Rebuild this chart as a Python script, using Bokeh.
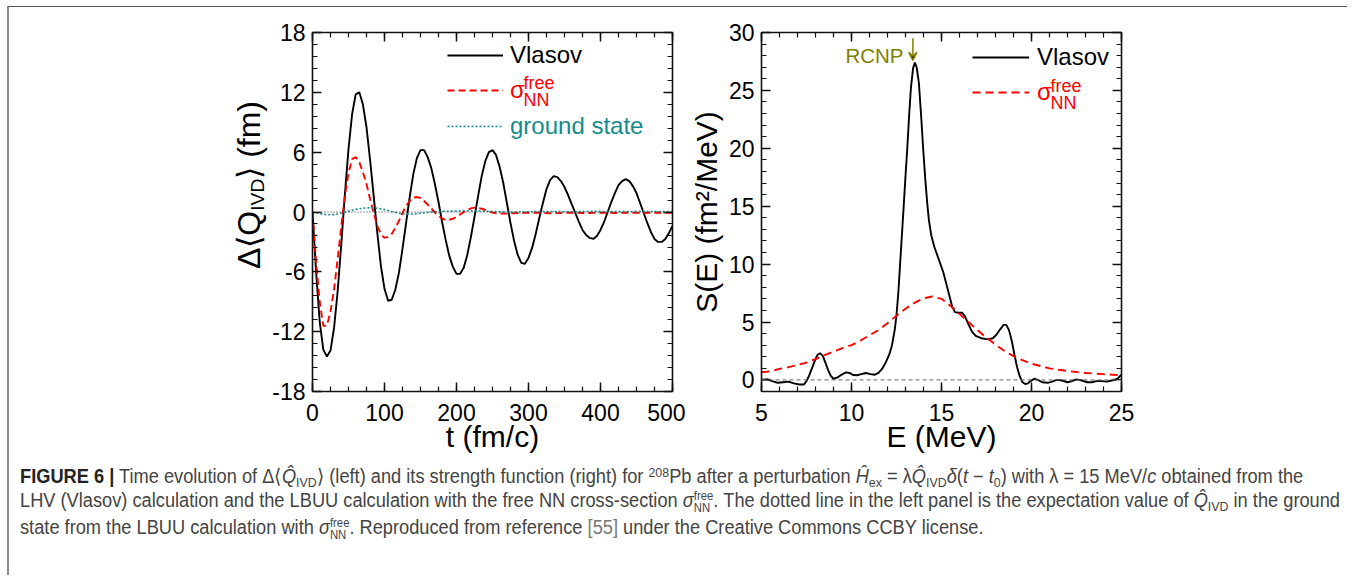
from bokeh.plotting import figure
from bokeh.models import (LinearAxis, FixedTicker, Range1d, Label, Arrow, VeeHead,
                          Div, Span, Legend, LegendItem, CustomLabelingPolicy)
from bokeh.layouts import row, column
from bokeh.embed import file_html
from bokeh.resources import INLINE

# ---------------- data: left panel (time evolution) ----------------
t_step5 = list(range(0, 505, 5))
q_vlasov = [0, -6.0, -11.0, -13.8, -14.5, -13.9, -11.6, -7.9, -3.2, 1.8,
            6.3, 9.8, 11.8, 12.0, 10.8, 8.5, 5.2, 1.6, -2.1, -5.4,
            -7.7, -8.9, -8.8, -7.8, -6.1, -3.7, -1.1, 1.5, 3.8, 5.4,
            6.2, 6.2, 5.5, 4.4, 2.8, 1.0, -1.0, -2.8, -4.4, -5.5,
            -6.2, -6.2, -5.6, -4.3, -2.5, -0.5, 1.6, 3.6, 5.1, 6.0,
            6.2, 5.7, 4.5, 2.9, 0.9, -1.1, -2.9, -4.3, -5.1, -5.2,
            -4.6, -3.6, -2.2, -0.6, 0.9, 2.3, 3.2, 3.6, 3.5, 3.1,
            2.5, 1.7, 0.8, -0.1, -1.0, -1.8, -2.3, -2.6, -2.7, -2.4,
            -1.8, -1.0, 0.0, 1.0, 1.9, 2.7, 3.1, 3.3, 3.1, 2.6,
            1.9, 0.9, -0.1, -1.1, -2.0, -2.7, -3.0, -3.0, -2.7, -2.1,
            -1.4]
q_free = [0, -5.0, -9.0, -11.4, -11.4, -10.0, -7.7, -4.7, -1.4, 1.6,
          3.9, 5.3, 5.5, 5.0, 4.0, 2.8, 1.3, -0.1, -1.4, -2.2,
          -2.6, -2.5, -2.2, -1.6, -0.9, -0.1, 0.6, 1.1, 1.45, 1.5,
          1.4, 1.1, 0.75, 0.35, -0.05, -0.4, -0.65, -0.8, -0.78, -0.68,
          -0.49, -0.25, -0.01, 0.21, 0.37, 0.44, 0.42, 0.33, 0.2, 0.05,
          -0.05, -0.12, -0.15, -0.16, -0.15, -0.13, -0.12, -0.1, -0.1, -0.09,
          -0.08, -0.07, -0.07, -0.08, -0.1, -0.11, -0.12, -0.12, -0.11, -0.1,
          -0.08, -0.07, -0.07, -0.08, -0.09, -0.1, -0.1, -0.1, -0.09, -0.08,
          -0.07, -0.07, -0.08, -0.09, -0.1, -0.1, -0.09, -0.08, -0.08, -0.08,
          -0.09, -0.1, -0.1, -0.09, -0.08, -0.08, -0.08, -0.09, -0.09, -0.08,
          -0.08]
t_step10 = list(range(0, 510, 10))
q_ground = [0, -0.15, -0.28, -0.26, -0.12, 0.08, 0.26, 0.38, 0.43, 0.38,
            0.24, 0.05, -0.13, -0.22, -0.2, -0.12, -0.04, 0.03, 0.07, 0.08,
            0.1, 0.12, 0.12, 0.1, 0.08, 0.05, 0.02, 0.0, -0.01, 0.0,
            0.02, 0.04, 0.05, 0.05, 0.04, 0.03, 0.03, 0.04, 0.05, 0.06,
            0.06, 0.05, 0.04, 0.04, 0.05, 0.06, 0.06, 0.05, 0.05, 0.05,
            0.05]

# ---------------- data: right panel (strength function) ----------------
e_vlasov = [5.0, 5.3, 5.6, 5.9, 6.2, 6.5, 6.8, 7.1, 7.35, 7.5,
            7.65, 7.8, 7.95, 8.1, 8.25, 8.4, 8.55, 8.7, 8.85, 9.0,
            9.2, 9.45, 9.7, 9.9, 10.1, 10.3, 10.55, 10.8, 11.05, 11.3,
            11.5, 11.7, 11.9, 12.1, 12.25, 12.4, 12.5, 12.6, 12.7, 12.8,
            12.9, 13.0, 13.1, 13.2, 13.3, 13.42, 13.52, 13.62, 13.74, 13.86,
            13.98, 14.1, 14.2, 14.3, 14.43, 14.6, 14.85, 15.1, 15.3, 15.45,
            15.6, 15.75, 15.95, 16.15, 16.3, 16.5, 16.7, 16.9, 17.2, 17.6,
            17.85, 18.05, 18.25, 18.45, 18.6, 18.75, 18.9, 19.05, 19.2, 19.35,
            19.5, 19.65, 19.8, 19.95, 20.15, 20.35, 20.6, 20.9, 21.15, 21.4,
            21.7, 22.0, 22.25, 22.5, 22.8, 23.1, 23.35, 23.6, 23.9, 24.2,
            24.45, 24.65, 24.8, 25.0]
s_vlasov = [0.0, 0.05, -0.1, -0.25, -0.2, -0.15, -0.3, -0.4, -0.4, -0.1,
            0.4, 1.0, 1.6, 2.15, 2.3, 2.1, 1.5, 0.85, 0.35, 0.1,
            0.2, 0.45, 0.65, 0.6, 0.42, 0.4, 0.5, 0.6, 0.5, 0.45,
            0.6, 0.95, 1.5, 2.2, 3.0, 4.3, 5.6, 7.5, 10.0, 12.5,
            15.0, 17.6, 20.0, 22.8, 25.2, 26.9, 27.4, 27.0, 25.7, 23.0,
            20.0, 17.3, 15.4, 13.8, 12.5, 11.5, 10.4, 9.3, 8.1, 7.2,
            6.3, 5.85, 5.8, 5.8, 5.5, 4.8, 4.15, 3.8, 3.6, 3.5,
            3.6, 3.9, 4.35, 4.75, 4.75, 4.3, 3.4, 2.2, 1.1, 0.3,
            -0.2, -0.35, -0.3, -0.1, 0.1, 0.0, -0.2, -0.25, -0.15, 0.0,
            -0.05, -0.2, -0.1, 0.05, -0.05, -0.2, -0.2, -0.1, -0.1, -0.15,
            -0.05, 0.0, 0.15, 0.45]
e_free = [5.0 + 0.5 * i for i in range(41)]
s_free = [0.66, 0.75, 0.95, 1.1, 1.3, 1.5, 1.8, 2.15, 2.45, 2.75,
          3.0, 3.4, 3.85, 4.3, 4.9, 5.55, 6.15, 6.65, 7.05, 7.2,
          7.0, 6.4, 5.7, 5.0, 4.3, 3.65, 3.05, 2.5, 2.05, 1.7,
          1.4, 1.2, 1.0, 0.88, 0.77, 0.68, 0.6, 0.55, 0.5, 0.45,
          0.4]

# ---------------- tick labels ----------------
left_xticks = [0, 100, 200, 300, 400, 500]
left_yticks = [-18, -12, -6, 0, 6, 12, 18]
left_ytick_text = {-18: "-18", -12: "-12", -6: "-6"}
right_xticks = [5, 10, 15, 20, 25]
right_yticks = [0, 5, 10, 15, 20, 25, 30]

FONT = "Liberation Sans"
RED = "#ff0000"
TEAL = "#148c8c"
OLIVE = "#808000"


def style_axis(ax, ticks, minor, labels=True):
    ax.ticker = FixedTicker(ticks=ticks, minor_ticks=minor)
    ax.axis_line_width = 1.6
    ax.axis_line_color = "#111111"
    ax.major_tick_in = 9
    ax.major_tick_out = 0
    ax.minor_tick_in = 5
    ax.minor_tick_out = 0
    ax.major_tick_line_width = 1.5
    ax.minor_tick_line_width = 1.2
    ax.major_tick_line_color = "#111111"
    ax.minor_tick_line_color = "#111111"
    ax.major_label_text_font = FONT
    ax.major_label_text_color = "black"
    if labels:
        ax.major_label_text_font_size = "23px"
        ax.major_label_standoff = 6
    else:
        # mirror axis: ticks only, no labels drawn
        ax.major_label_text_font_size = "0px"
        ax.major_label_standoff = 0
        ax.major_label_policy = CustomLabelingPolicy(code="return []")
    ax.axis_label_text_font = FONT
    ax.axis_label_text_font_size = "30px"
    ax.axis_label_text_font_style = "normal"
    ax.axis_label_text_color = "black"


def add_label(p, x, y, text, size, color="black", align="left"):
    p.add_layout(Label(x=x, y=y, text=text, text_font=FONT,
                       text_font_size=f"{size}px", text_color=color,
                       text_align=align, text_baseline="alphabetic"))


def add_legend(p, r, text, color, x, y, gw=56, standoff=7):
    p.add_layout(Legend(items=[LegendItem(label=text, renderers=[r])], location=(x, y),
                        glyph_width=gw, glyph_height=30, label_width=0, label_height=30,
                        label_standoff=standoff, padding=0, margin=0,
                        border_line_color=None, background_fill_alpha=0,
                        label_text_font=FONT, label_text_font_size="24px",
                        label_text_color=color))


def make_fig(width, xr, yr, mbl, mbr):
    p = figure(width=width, height=448, x_range=Range1d(*xr), y_range=Range1d(*yr),
               output_backend="svg", toolbar_location=None,
               min_border_left=mbl, min_border_right=mbr,
               min_border_top=25, min_border_bottom=63,
               x_axis_location=None, y_axis_location=None)
    p.xgrid.visible = False
    p.ygrid.visible = False
    p.outline_line_color = None
    p.background_fill_color = "white"
    p.border_fill_color = "white"
    return p


# ================= left panel =================
p1 = make_fig(416, (0, 500), (-18, 18), 43, 13)
lx_minor = [25 * i for i in range(21)]
ly_minor = [-18 + 1.2 * i for i in range(31)]
ax = LinearAxis(axis_label="t (fm/c)")
style_axis(ax, left_xticks, lx_minor)
ax.major_label_standoff = 12
ax.axis_label_standoff = -4
p1.add_layout(ax, "below")
ay = LinearAxis()
style_axis(ay, left_yticks, ly_minor)
ay.major_label_standoff = 7
ay.major_label_overrides = left_ytick_text
p1.add_layout(ay, "left")
a_top = LinearAxis()
style_axis(a_top, left_xticks, lx_minor, labels=False)
p1.add_layout(a_top, "above")
a_right = LinearAxis()
style_axis(a_right, left_yticks, ly_minor, labels=False)
p1.add_layout(a_right, "right")

p1.add_layout(Span(location=0, dimension="width", line_color="#333333",
                   line_width=1, line_dash="1 2"))
r1 = p1.line(t_step5, q_vlasov, line_color="black", line_width=1.9)
r2 = p1.line(t_step5, q_free, line_color=RED, line_width=1.9, line_dash="7 4")
r3 = p1.line(t_step10, q_ground, line_color=TEAL, line_width=1.6, line_dash="2 2")

add_legend(p1, r1, "Vlasov", "black", 135, 321)
add_legend(p1, r2, "σ", RED, 135, 286)
add_legend(p1, r3, "ground state", TEAL, 135, 250)
add_label(p1, 293, 12.9, "free", 18, RED)
add_label(p1, 293, 11.25, "NN", 18, RED)

# ================= right panel =================
p2 = make_fig(662, (5, 25), (-1, 30), 76, 226)
rx_minor = [5 + i for i in range(21)]
ry_minor = [-1 + i for i in range(32)]
bx = LinearAxis(axis_label="E (MeV)")
style_axis(bx, right_xticks, rx_minor)
bx.major_label_standoff = 12
bx.axis_label_standoff = -4
p2.add_layout(bx, "below")
by = LinearAxis(axis_label="S(E) (fm²/MeV)")
style_axis(by, right_yticks, ry_minor)
by.major_label_standoff = 7
by.axis_label_standoff = 3
p2.add_layout(by, "left")
b_top = LinearAxis()
style_axis(b_top, right_xticks, rx_minor, labels=False)
p2.add_layout(b_top, "above")
b_right = LinearAxis()
style_axis(b_right, right_yticks, ry_minor, labels=False)
p2.add_layout(b_right, "right")

p2.add_layout(Span(location=0, dimension="width", line_color="#666666",
                   line_width=1, line_dash="4 3"))
s1 = p2.line(e_vlasov, s_vlasov, line_color="black", line_width=1.9)
s2 = p2.line(e_free, s_free, line_color=RED, line_width=1.9, line_dash="8 5")

add_legend(p2, s1, "Vlasov", "black", 211, 319, gw=57, standoff=8)
add_legend(p2, s2, "σ", RED, 211, 284, gw=57, standoff=8)
add_label(p2, 21.06, 25.35, "free", 18, RED)
add_label(p2, 21.06, 23.87, "NN", 18, RED)

add_label(p2, 12.89, 28.04, "RCNP", 20.5, OLIVE, align="right")
p2.add_layout(Arrow(end=VeeHead(size=8, line_color=OLIVE, line_width=1.5),
                    x_start=13.41, y_start=29.5, x_end=13.41, y_end=27.6,
                    line_color=OLIVE, line_width=1.5))

# ================= left y-axis title (needs a subscript) =================
ylab_html = (
    '<div style="position:relative;width:260px;height:448px;">'
    '<div style="position:absolute;left:242px;top:178px;'
    'transform:translate(-50%,-50%) rotate(-90deg);white-space:nowrap;'
    'font-family:\'Liberation Sans\';font-size:32px;line-height:32px;color:black;">'
    'Δ⟨Q<span style="font-size:0.6em;position:relative;top:0.22em">IVD</span>⟩ (fm)'
    '</div></div>')
ylab = Div(text=ylab_html, width=260, height=448, margin=0)


# ================= caption =================
def sub(s):
    return f'<span style="font-size:0.68em;position:relative;top:0.3em;line-height:0">{s}</span>'


def sup(s):
    return f'<span style="font-size:0.68em;position:relative;top:-0.45em;line-height:0">{s}</span>'


def subsup(b, t):
    return ('<span style="display:inline-block;font-size:0.62em;line-height:1.0em;'
            f'vertical-align:-0.45em;text-align:left">{t}<br>{b}</span>')


Q = '<i>Q̂</i>'
line1 = (f'<b style="color:#222">FIGURE 6 |</b> Time evolution of Δ⟨{Q}{sub("IVD")}⟩ (left) and its '
         f'strength function (right) for {sup("208")}Pb after a perturbation '
         f'<i>Ĥ</i>{sub("ex")} = λ{Q}{sub("IVD")}<i>δ</i>(<i>t</i> − <i>t</i>{sub("0")}) '
         f'with λ = 15 MeV/<i>c</i> obtained from the')
line2 = (f'LHV (Vlasov) calculation and the LBUU calculation with the free NN cross-section '
         f'<i>σ</i>{subsup("NN", "free")}. The dotted line in the left panel is the expectation '
         f'value of {Q}{sub("IVD")} in the ground')
line3 = (f'state from the LBUU calculation with <i>σ</i>{subsup("NN", "free")}. Reproduced from '
         f'reference <span style="color:#777">[55]</span> under the Creative Commons CCBY license.')

caption_html = (
    '<div style="padding-left:11px;padding-top:9px;">'
    '<div style="font-family:\'Liberation Sans\';font-size:19.5px;color:#444;'
    'line-height:24px;white-space:nowrap;transform:scaleX(0.935);transform-origin:0 0;">'
    f'{line1}<br>{line2}<br>{line3}</div></div>')
caption = Div(text=caption_html, width=1338, height=120, margin=0)

layout = column(row(ylab, p1, p2), caption,
                styles={"border-top": "1px solid #555555",
                        "border-left": "2px solid #8c8c8c",
                        "margin-left": "7px", "margin-top": "6px",
                        "width": "1340px"})

open("out.html", "w").write(file_html(layout, INLINE))
